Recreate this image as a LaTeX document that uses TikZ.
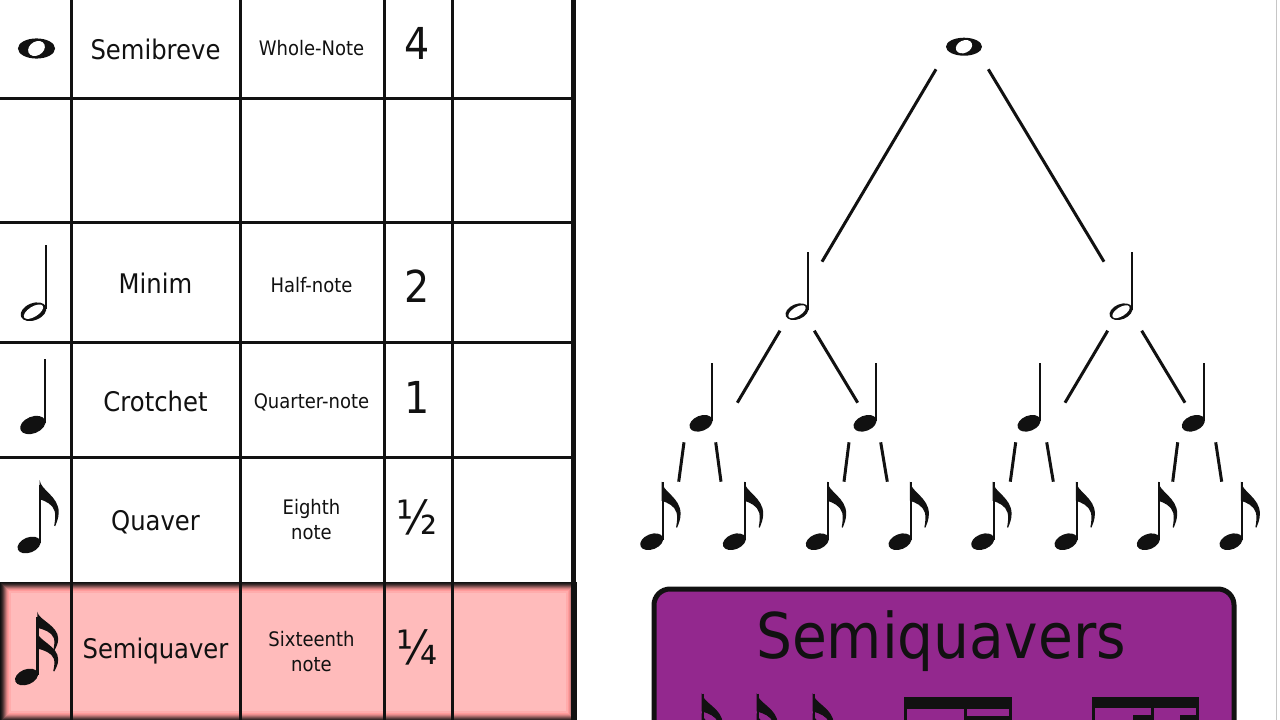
\documentclass[tikz,border=0pt]{standalone}
\usepackage{fontspec}
\setmainfont{DejaVu Sans}[FakeStretch=0.9]
\usetikzlibrary{calc}
\definecolor{rowpink}{HTML}{FFBBBB}
\definecolor{rowedge}{HTML}{FF9A9A}
\definecolor{boxpurple}{HTML}{93288E}
\definecolor{ink}{HTML}{111111}
\tikzset{
  grid/.style={line width=3pt, draw=ink},
  link/.style={line width=3pt, draw=ink},
  stemline/.style={line width=2.2pt, draw=ink},
  bigname/.style={font=\fontsize{27}{30}\selectfont, anchor=base, inner sep=0pt, text=ink},
  engname/.style={font=\fontsize{20}{25}\selectfont, anchor=base, inner sep=0pt, text=ink},
  engtwo/.style={font=\fontsize{20}{25}\selectfont, anchor=center, inner sep=0pt, text=ink, align=center},
  numtext/.style={font=\fontsize{44}{48}\selectfont, anchor=base, inner sep=0pt, text=ink},
  fractext/.style={font=\fontsize{47}{50}\selectfont, anchor=base, inner sep=0pt, text=ink},
  pics/semibreve/.style={code={
    \fill[ink] (0,0) ellipse [x radius=18pt, y radius=9pt];
    \fill[white, rotate around={25:(0,0)}] (0,0) ellipse [x radius=8.5pt, y radius=6.2pt];}},
  pics/crotchet/.style={code={
    \fill[ink, rotate around={22:(0,0)}] (0,0) ellipse [x radius=12pt, y radius=7.6pt];
    \draw[stemline] (11,-2) -- (11,-60);}},
  pics/minim/.style={code={
    \fill[ink, rotate around={22:(0,0)}] (0,0) ellipse [x radius=12pt, y radius=7.6pt];
    \fill[white, rotate around={32:(0,0)}] (0,0) ellipse [x radius=9.8pt, y radius=4.5pt];
    \draw[line width=1.8pt, draw=ink] (11.2,-2) -- (11.2,-60);}},
  pics/flag/.style={code={
    \fill[ink] (0,0) .. controls (1,10) and (19,16) .. (19,32)
      .. controls (19,38) and (17,42) .. (15.5,46) -- (14.5,45.5)
      .. controls (15.5,40) and (16,35) .. (15,31)
      .. controls (13,24) and (6,21) .. (0,19) -- cycle;}},
  pics/quaver/.style={code={
    \pic at (0,0) {crotchet};
    \pic at (9.9,-60) {flag};}},
  pics/semiquaver/.style={code={
    \pic at (0,0) {crotchet};
    \pic[xscale=1.1, yscale=0.85] at (9.9,-60) {flag};
    \pic[xscale=1.1, yscale=0.85] at (9.9,-41) {flag};}}
}
\begin{document}
\begin{tikzpicture}[x=1pt, y=-1pt]
\useasboundingbox (0,0) rectangle (1280,720);
\clip (0,0) rectangle (1280,720);
\fill[white] (0,0) rectangle (1280,720);

% ---- highlighted row (semiquaver) ----
\fill[ink] (0,582) rectangle (577,722);
\foreach \d/\c in {1/8,2/18,3/32,4/48,5/64,6/80,7/92,8/100}
  \fill[rowedge!\c!ink] (\d,582+\d) rectangle (577-\d,722-\d);
\fill[rowpink!55!rowedge] (9,591) rectangle (568,713);
\fill[rowpink] (11,593) rectangle (566,711);

% ---- table grid ----
\foreach \yy in {98,222.5,342,457.5}
  \draw[grid] (0,\yy) -- (573,\yy);
\foreach \xx in {71.5,240.5,384,452}
  \draw[grid] (\xx,0) -- (\xx,720);
\draw[line width=4.5pt, draw=ink] (573.5,0) -- (573.5,720);
\draw[gray!45, line width=1.2pt] (1276.5,0) -- (1276.5,720);

% ---- table texts ----
\node[bigname] (n1) at (155.5,59) {Semibreve};
\node[engname] (e1) at (311.5,55) {Whole-Note};
\node[numtext] (v1) at (417,59.3) {4};

\node[bigname] (n3) at (155.5,293) {Minim};
\node[engname] (e3) at (311.5,292) {Half-note};
\node[numtext] (v3) at (417,302) {2};

\node[bigname] (n4) at (155.5,411.7) {Crotchet};
\node[engname] (e4) at (311.5,408) {Quarter-note};
\node[numtext] (v4) at (417,413) {1};

\node[bigname] (n5) at (155.5,530) {Quaver};
\node[engtwo] (e5) at (311.5,520) {Eighth\\note};
\node[fractext] (v5) at (417,534) {½};

\node[bigname] (n6) at (155.5,658) {Semiquaver};
\node[engtwo] (e6) at (311.5,651.6) {Sixteenth\\note};
\node[fractext] (v6) at (417,664) {¼};

% ---- table note symbols ----
\coordinate (s1) at (36.5,48.5);
\pic[xscale=1.03, yscale=1.12] at (s1) {semibreve};
\coordinate (s3) at (33.5,311.7);
\pic[scale=1.12] at (s3) {minim};
\coordinate (s4) at (32.8,425);
\pic[scale=1.1] at (s4) {crotchet};
\coordinate (s5) at (29,545);
\pic[scale=1.08] at (s5) {quaver};
\coordinate (s6) at (26.5,677);
\pic[scale=1.09] at (s6) {semiquaver};

% ---- tree of note values ----
\coordinate (W) at (964,46.7);
\coordinate (H1) at (797,311.7);
\coordinate (H2) at (1121,311.7);
\coordinate (Q1) at (701,423.3);
\coordinate (Q2) at (865,423.3);
\coordinate (Q3) at (1029,423.3);
\coordinate (Q4) at (1193.3,423.3);
\coordinate (E1) at (651.7,541.7);
\coordinate (E2) at (734.3,541.7);
\coordinate (E3) at (817.3,541.7);
\coordinate (E4) at (900,541.7);
\coordinate (E5) at (982.7,541.7);
\coordinate (E6) at (1066,541.7);
\coordinate (E7) at (1148.3,541.7);
\coordinate (E8) at (1231,541.7);

\pic at (W) {semibreve};
\pic at (H1) {minim};
\pic at (H2) {minim};
\foreach \q in {Q1,Q2,Q3,Q4} \pic at (\q) {crotchet};
\foreach \e in {E1,E2,E3,E4,E5,E6,E7,E8} \pic at (\e) {quaver};

\draw[link] ($(W)+(-28,22.6)$) -- ($(H1)+(25,-50)$);
\draw[link] ($(W)+(24.3,22.6)$) -- ($(H2)+(-17,-50)$);
\draw[link] ($(H1)+(-17,19)$) -- ($(Q1)+(36.3,-20.6)$);
\draw[link] ($(H1)+(17.3,19)$) -- ($(Q2)+(-7.3,-20.6)$);
\draw[link] ($(H2)+(-13.3,19)$) -- ($(Q3)+(36,-20.6)$);
\draw[link] ($(H2)+(20.7,19)$) -- ($(Q4)+(-8.3,-20.6)$);
\draw[link] ($(Q1)+(-17,19)$) -- ($(E1)+(27,-60)$);
\draw[link] ($(Q1)+(14.7,19)$) -- ($(E2)+(-13.3,-60)$);
\draw[link] ($(Q2)+(-16,19)$) -- ($(E3)+(26.7,-60)$);
\draw[link] ($(Q2)+(15.7,19)$) -- ($(E4)+(-12.7,-60)$);
\draw[link] ($(Q3)+(-13.3,19)$) -- ($(E5)+(27.6,-60)$);
\draw[link] ($(Q3)+(17.7,19)$) -- ($(E6)+(-12.7,-60)$);
\draw[link] ($(Q4)+(-15.6,19)$) -- ($(E7)+(24.4,-60)$);
\draw[link] ($(Q4)+(22.4,19)$) -- ($(E8)+(-9.3,-60)$);

% ---- purple box ----
\draw[line width=5pt, draw=ink, fill=boxpurple, rounded corners=16pt] (654,589) rectangle (1234,800);
\node[font=\fontsize{63}{70}\selectfont, anchor=base, inner sep=0pt, text=ink] (title) at (941,658) {Semiquavers};

% single semiquavers (cut off at the bottom)
\foreach \xx in {703,758,814} {
  \draw[line width=2.6pt, draw=ink] (\xx,693.5) -- (\xx,740);
  \pic[xscale=1.1, yscale=0.95] at (\xx-1.3,693.3) {flag};
  \pic[xscale=1.1, yscale=0.95] at (\xx-1.3,713.3) {flag};
}
% beamed groups
\fill[ink] (904.3,697.3) rectangle (1012.3,709);
\foreach \xx in {905.8,965.5,1010.8} \draw[line width=3pt, draw=ink] (\xx,700) -- (\xx,740);
\fill[ink] (964,716) rectangle (1012.3,740);
\fill[ink] (1091.7,696.7) rectangle (1199,708.3);
\foreach \xx in {1093.2,1152.5,1197.5} \draw[line width=3pt, draw=ink] (\xx,700) -- (\xx,740);
\fill[ink] (1133,715) rectangle (1152.5,740);
\fill[ink] (1180,715) rectangle (1199,740);
\end{tikzpicture}
\end{document}
